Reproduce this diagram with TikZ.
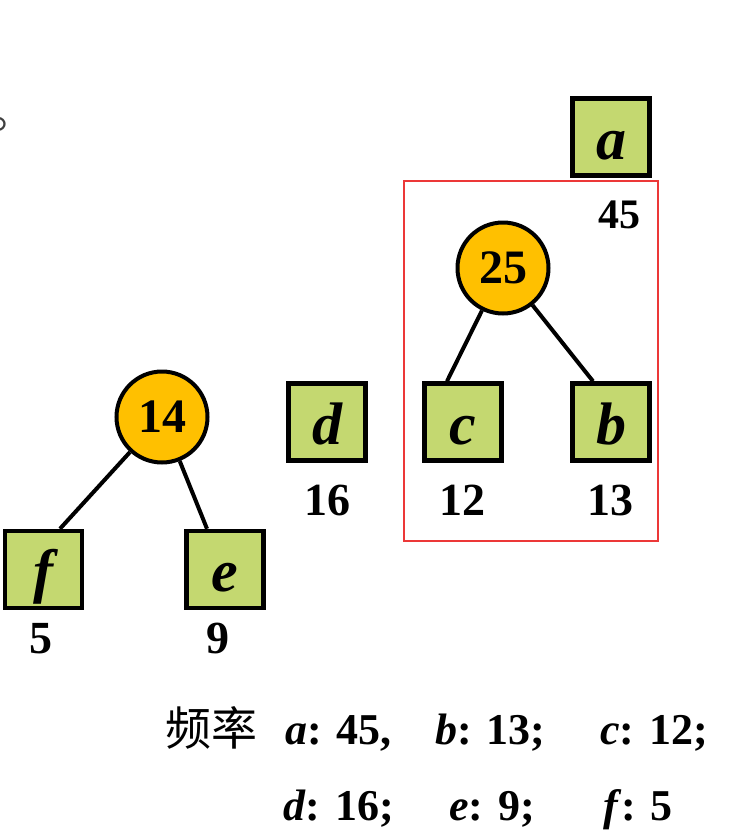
\documentclass[tikz,border=0pt]{standalone}
\usepackage{fontspec}
\setmainfont{Liberation Serif}
\newfontfamily\cjk{Noto Sans CJK SC}
\definecolor{leafgreen}{RGB}{196,216,112}
\definecolor{nodeorange}{RGB}{255,192,0}
\definecolor{framered}{RGB}{236,56,56}
\begin{document}
\begin{tikzpicture}[x=1pt,y=-1pt,
  leaf/.style={draw=black,line width=4.5pt,fill=leafgreen,minimum size=77pt,inner sep=0pt,
    text height=44pt,text depth=0pt,
    font=\fontsize{60}{64}\selectfont\bfseries\itshape},
  inner/.style={circle,draw=black,line width=4pt,fill=nodeorange,minimum size=91pt,inner sep=0pt,
    font=\fontsize{48}{52}\selectfont\bfseries},
  weight/.style={anchor=base,inner sep=0pt,font=\fontsize{46}{50}\selectfont\bfseries},
  edge/.style={line width=4pt},
  freq/.style={anchor=base west,inner sep=0pt,font=\fontsize{44}{48}\selectfont\bfseries}]
\useasboundingbox (0,0) rectangle (750,831);
% partial punctuation at the left edge
\node[anchor=base west,inner sep=0pt,font=\cjk\fontsize{45}{48}\selectfont,text=black!75] (dot) at (-10,128) {。};
% left tree
\node[inner] (n14) at (162,417) {14};
\node[leaf] (f) at (43.5,569.5) {f};
\node[leaf] (e) at (225,569.5) {e};
\draw[edge] (n14) -- (f.north -| 60,0);
\draw[edge] (n14) -- (e.north -| 207,0);
\node[weight] (wf) at (41,653) {5};
\node[weight] (we) at (218,653) {9};
% d
\node[leaf] (d) at (327,422) {d};
\node[weight] (wd) at (327,515) {16};
% a
\node[leaf] (a) at (611,137) {a};
\node[weight,font=\fontsize{42}{46}\selectfont\bfseries] (wa) at (619,228) {45};
% right tree
\node[inner] (n25) at (503,268) {25};
\node[leaf] (c) at (463,422) {c};
\node[leaf] (b) at (611,422) {b};
\draw[edge] (n25) -- (c.north -| 447,0);
\draw[edge] (n25) -- (b.north -| 593,0);
\node[weight] (wc) at (462,515) {12};
\node[weight] (wb) at (610,515) {13};
% frame
\draw[framered,line width=2.2pt] (404,181) rectangle (658,541);
% frequencies
\node[anchor=base west,inner sep=0pt,font=\cjk\fontsize{46}{50}\selectfont] (lbl) at (165,745) {频率};
\node[freq] (fa) at (285,744) {\textit{a}: 45,};
\node[freq] (fb) at (435,744) {\textit{b}: 13;};
\node[freq] (fc) at (600,744) {\textit{c}: 12;};
\node[freq] (fd) at (283,820) {\textit{d}: 16;};
\node[freq] (fe) at (449,820) {\textit{e}: 9;};
\node[freq] (ff) at (603,820) {\textit{f}: 5};
\end{tikzpicture}
\end{document}
